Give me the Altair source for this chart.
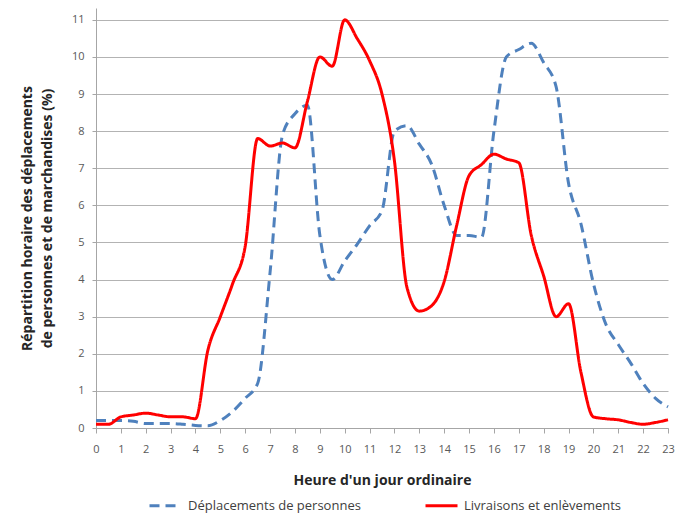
import altair as alt
import pandas as pd

hours = [0, 0.5, 1, 1.5, 2, 2.5, 3, 3.5, 4, 4.5, 5, 5.5, 6, 6.5, 7, 7.5, 8, 8.5,
         9, 9.5, 10, 10.5, 11, 11.5, 12, 12.5, 13, 13.5, 14, 14.5, 15, 15.5, 16,
         16.5, 17, 17.5, 18, 18.5, 19, 19.5, 20, 20.5, 21, 21.5, 22, 22.5, 23]

deplacements = [0.2, 0.2, 0.2, 0.18, 0.12, 0.12, 0.12, 0.1, 0.07, 0.06,
                0.2, 0.45, 0.8, 1.2, 4.2, 7.9, 8.47, 8.7,
                5.2, 4.0, 4.5, 4.95, 5.45, 5.86, 8.0, 8.15,
                7.65, 7.1, 6.0, 5.19, 5.19, 5.14, 8.0, 10.0,
                10.2, 10.37, 9.85, 9.2, 6.6, 5.5, 3.9, 2.8, 2.25, 1.75, 1.2, 0.8, 0.57]

livraisons = [0.1, 0.1, 0.3, 0.35, 0.4, 0.35, 0.3, 0.3, 0.25,
              2.1, 3.0, 3.9, 4.9,
              7.8, 7.6, 7.68, 7.55, 8.8, 10.0, 9.75, 11.0,
              10.5, 9.9, 9.0, 7.2, 3.8, 3.15, 3.3, 3.95,
              5.45, 6.8, 7.1, 7.38, 7.25, 7.15, 5.2, 4.1,
              3.0, 3.35, 1.5, 0.3, 0.25, 0.22, 0.15, 0.1, 0.15, 0.22]

series = ["Déplacements de personnes", "Livraisons et enlèvements"]
colors = ["#4F81BD", "#FF0000"]
dashes = [[10, 6], [1, 0]]

x_ticks = list(range(0, 24))
y_ticks = list(range(0, 12))

rows = []
for h, v in zip(hours, deplacements):
    rows.append({"heure": h, "valeur": v, "serie": series[0]})
for h, v in zip(hours, livraisons):
    rows.append({"heure": h, "valeur": v, "serie": series[1]})
df = pd.DataFrame(rows)

FONT = "Open Sans"

legend_kw = dict(
    title=None, orient="none", legendX=52, legendY=480, direction="horizontal",
    symbolType="stroke", symbolSize=1024, symbolStrokeWidth=3,
    labelFont=FONT, labelFontSize=13, labelColor="#404040", labelLimit=300,
    labelOffset=5, columnPadding=58,
)

chart = alt.Chart(df).mark_line(strokeWidth=3, interpolate="monotone").encode(
    x=alt.X("heure:Q",
            scale=alt.Scale(domain=[0, 23], nice=False, zero=False),
            axis=alt.Axis(values=x_ticks, title="Heure d'un jour ordinaire",
                          grid=False, tickSize=5, labelPadding=10,
                          titlePadding=19, labelFlush=False)),
    y=alt.Y("valeur:Q",
            scale=alt.Scale(domain=[0, 11.32], nice=False),
            axis=alt.Axis(values=y_ticks,
                          title=["Répartition horaire des déplacements",
                                 "de personnes et de marchandises (%)"],
                          tickSize=4, labelPadding=8, titlePadding=17)),
    color=alt.Color("serie:N", scale=alt.Scale(domain=series, range=colors),
                    legend=alt.Legend(**legend_kw)),
    strokeDash=alt.StrokeDash("serie:N", scale=alt.Scale(domain=series, range=dashes),
                              legend=alt.Legend(**legend_kw)),
).properties(
    width=572, height=420,
    autosize=alt.AutoSizeParams(type="none"),
    padding={"left": 88, "top": 0, "right": 8, "bottom": 90},
).configure_view(stroke=None).configure_axis(
    labelFont=FONT, labelFontSize=11, labelColor="#595959",
    titleFont=FONT, titleFontSize=14, titleFontWeight="bold", titleColor="#262626",
    titleLineHeight=20,
    domainColor="#a6a6a6", tickColor="#a6a6a6", gridColor="#b3b3b3", gridWidth=1,
)

chart.save("out.html", embed_options={"renderer": "svg", "actions": False})
